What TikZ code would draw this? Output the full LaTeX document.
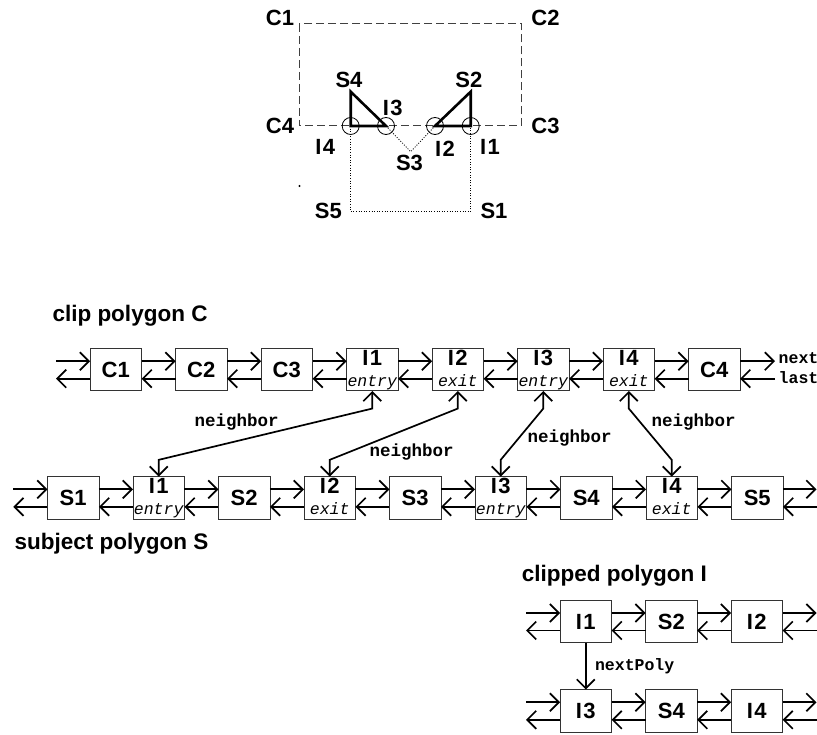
\documentclass[tikz,border=0pt]{standalone}
\usepackage{fontspec}
\setmainfont{Liberation Sans}
\setmonofont{Liberation Mono}
\usetikzlibrary{arrows.meta,positioning}

% second line of an intersection box
\newcommand{\flag}[1]{\\{\fontsize{16.5}{16.5}\selectfont\mdseries\ttfamily\itshape\vphantom{y}#1}}
% intersection name, set a little loose
\newcommand{\inum}[1]{I\kern1.5pt#1}

\tikzset{
  listbox/.style={draw=black!80,line width=0.9pt,minimum width=51.5pt,
    minimum height=42.5pt,inner sep=0pt,outer sep=0pt,align=center,
    font=\fontsize{22}{21}\selectfont\bfseries},
  barb/.tip={Straight Barb[length=9pt,width=18pt]},
  link/.style={line width=1.7pt,-barb},
  nbarr/.style={line width=1.7pt,barb-barb},
  ptlabel/.style={font=\fontsize{22}{22}\selectfont\bfseries,inner sep=0pt},
  title/.style={font=\fontsize{22.5}{22.5}\selectfont\bfseries,inner sep=0pt,anchor=west},
  ptr/.style={font=\fontsize{17.5}{17.5}\selectfont\ttfamily\bfseries,inner sep=0pt},
  smallptr/.style={font=\fontsize{16.5}{16.5}\selectfont\ttfamily\bfseries,inner sep=0pt},
  cliprect/.style={draw=black!75,line width=1pt,dash pattern=on 8pt off 4pt},
  subjline/.style={line width=2.6pt},
  subjdot/.style={line width=0.8pt,dash pattern=on 1pt off 1.6pt},
  isect/.style={line width=0.8pt}
}

\begin{document}
\begin{tikzpicture}[x=1pt,y=-1pt]
  \useasboundingbox (0,0) rectangle (817,735);

  % the two polygons
  \coordinate (tc1) at (299.3,24);
  \coordinate (tc3) at (521.7,126);
  \coordinate (ts4) at (350.7,91.7);
  \coordinate (ti4) at (350.7,126);
  \coordinate (ti3) at (386,126);
  \coordinate (ti2) at (435,126);
  \coordinate (ti1) at (470.7,126);
  \coordinate (ts2) at (470.7,91.7);
  \coordinate (ts3) at (410.7,151.7);
  \coordinate (ts5) at (350.7,211.7);
  \coordinate (ts1) at (470.7,211.7);
  \draw[cliprect] (tc1) rectangle (tc3);
  \draw[subjdot] (ti3) -- (ts3) -- (ti2);
  \draw[subjdot] (ti4) -- (ts5) -- (ts1) -- (ti1);
  \draw[subjline] (ts4) -- (ti4) -- (ti3) -- cycle;
  \draw[subjline] (ts2) -- (ti1) -- (ti2) -- cycle;
  \foreach \p in {ti1,ti2,ti3,ti4}
    \draw[isect] (\p) circle (8.5);
  \fill (299.5,186) circle (1.1);

  \node[ptlabel] (lc1) at (280,18) {C1};
  \node[ptlabel] (lc2) at (545.5,18) {C2};
  \node[ptlabel] (lc3) at (545.5,125.5) {C3};
  \node[ptlabel] (lc4) at (280,125.5) {C4};
  \node[ptlabel] (ls4) at (349,79.5) {S4};
  \node[ptlabel] (ls2) at (468.8,79.5) {S2};
  \node[ptlabel] (li3) at (392.8,107.5) {\inum{3}};
  \node[ptlabel] (li4) at (325.3,147) {\inum{4}};
  \node[ptlabel] (li2) at (445,149) {\inum{2}};
  \node[ptlabel] (li1) at (490,147) {\inum{1}};
  \node[ptlabel] (ls3) at (409.5,163) {S3};
  \node[ptlabel] (ls5) at (328.3,211) {S5};
  \node[ptlabel] (ls1) at (494,211) {S1};

  % clip polygon C
  \node[title] (ctitle) at (52.3,316) {clip polygon C};
  \node[listbox] (c1) at (115.8,369.7) {C1};
  \node[listbox,right=34pt of c1] (c2) {C2};
  \node[listbox,right=34pt of c2] (c3) {C3};
  \node[listbox,right=34pt of c3] (ci1) {\inum{1}\flag{entry}};
  \node[listbox,right=34pt of ci1] (ci2) {\inum{2}\flag{exit}};
  \node[listbox,right=34pt of ci2] (ci3) {\inum{3}\flag{entry}};
  \node[listbox,right=34pt of ci3] (ci4) {\inum{4}\flag{exit}};
  \node[listbox,right=34pt of ci4] (c4) {C4};
  \coordinate (cbeg) at (56,369.7);
  \coordinate (cend) at (775,369.7);
  \foreach \a/\b in {c1/c2,c2/c3,c3/ci1,ci1/ci2,ci2/ci3,ci3/ci4,ci4/c4}{
    \draw[link] ([yshift=8.5pt]\a.east) -- ([yshift=8.5pt]\b.west);
    \draw[link] ([yshift=-9pt]\b.west) -- ([yshift=-9pt]\a.east);
  }
  \draw[link] ([yshift=8.5pt]cbeg) -- ([yshift=8.5pt]c1.west);
  \draw[link] ([yshift=-9pt]c1.west) -- ([yshift=-9pt]cbeg);
  \draw[link] ([yshift=8.5pt]c4.east) -- ([yshift=8.5pt]cend);
  \draw[link] ([yshift=-9pt]cend) -- ([yshift=-9pt]c4.east);
  \node[smallptr,anchor=base west] (nxt) at (778.5,363.3) {next};
  \node[smallptr,anchor=base west] (lst) at (778.5,383.3) {last};

  % subject polygon S
  \node[title] (stitle) at (14.5,544) {subject polygon S};
  \node[listbox] (s1) at (73.2,497.8) {S1};
  \node[listbox,right=34pt of s1] (si1) {\inum{1}\flag{entry}};
  \node[listbox,right=34pt of si1] (s2) {S2};
  \node[listbox,right=34pt of s2] (si2) {\inum{2}\flag{exit}};
  \node[listbox,right=34pt of si2] (s3) {S3};
  \node[listbox,right=34pt of s3] (si3) {\inum{3}\flag{entry}};
  \node[listbox,right=34pt of si3] (s4) {S4};
  \node[listbox,right=34pt of s4] (si4) {\inum{4}\flag{exit}};
  \node[listbox,right=34pt of si4] (s5) {S5};
  \coordinate (sbeg) at (13.3,497.8);
  \coordinate (send) at (816.5,497.8);
  \foreach \a/\b in {s1/si1,si1/s2,s2/si2,si2/s3,s3/si3,si3/s4,s4/si4,si4/s5}{
    \draw[link] ([yshift=8.5pt]\a.east) -- ([yshift=8.5pt]\b.west);
    \draw[link] ([yshift=-9pt]\b.west) -- ([yshift=-9pt]\a.east);
  }
  \draw[link] ([yshift=8.5pt]sbeg) -- ([yshift=8.5pt]s1.west);
  \draw[link] ([yshift=-9pt]s1.west) -- ([yshift=-9pt]sbeg);
  \draw[link] ([yshift=8.5pt]s5.east) -- ([yshift=8.5pt]send);
  \draw[link] ([yshift=-9pt]send) -- ([yshift=-9pt]s5.east);

  % neighbor pointers
  \foreach \a/\b in {ci1/si1,ci2/si2,ci3/si3,ci4/si4}
    \draw[nbarr] (\a.south) -- ++(0,17.6) -- ([yshift=16.7pt]\b.north) -- (\b.north);
  \node[ptr] (nb1) at (236.7,421.7) {neighbor};
  \node[ptr] (nb2) at (411.7,451.7) {neighbor};
  \node[ptr] (nb3) at (569.7,438.3) {neighbor};
  \node[ptr] (nb4) at (693.7,421.7) {neighbor};

  % clipped polygon I
  \node[title] (ptitle) at (521.7,575.8) {clipped polygon I};
  \node[listbox] (p1) at (585.8,621.5) {\inum{1}};
  \node[listbox,right=34pt of p1] (p2) {S2};
  \node[listbox,right=34pt of p2] (p3) {\inum{2}};
  \node[listbox] (q1) at (585.8,710.8) {\inum{3}};
  \node[listbox,right=34pt of q1] (q2) {S4};
  \node[listbox,right=34pt of q2] (q3) {\inum{4}};
  \coordinate (pbeg) at (526,621.5);
  \coordinate (pend) at (816.5,621.5);
  \coordinate (qbeg) at (526,710.8);
  \coordinate (qend) at (816.5,710.8);
  \foreach \a/\b in {p1/p2,p2/p3,q1/q2,q2/q3}{
    \draw[link] ([yshift=8.5pt]\a.east) -- ([yshift=8.5pt]\b.west);
    \draw[link] ([yshift=-9pt]\b.west) -- ([yshift=-9pt]\a.east);
  }
  \foreach \s/\e/\f/\l in {pbeg/p1/pend/p3,qbeg/q1/qend/q3}{
    \draw[link] ([yshift=8.5pt]\s) -- ([yshift=8.5pt]\e.west);
    \draw[link] ([yshift=-9pt]\e.west) -- ([yshift=-9pt]\s);
    \draw[link] ([yshift=8.5pt]\l.east) -- ([yshift=8.5pt]\f);
    \draw[link] ([yshift=-9pt]\f) -- ([yshift=-9pt]\l.east);
  }
  \draw[link] (p1) -- (q1);
  \node[smallptr] (np) at (634.7,666.7) {nextPoly};
\end{tikzpicture}
\end{document}
